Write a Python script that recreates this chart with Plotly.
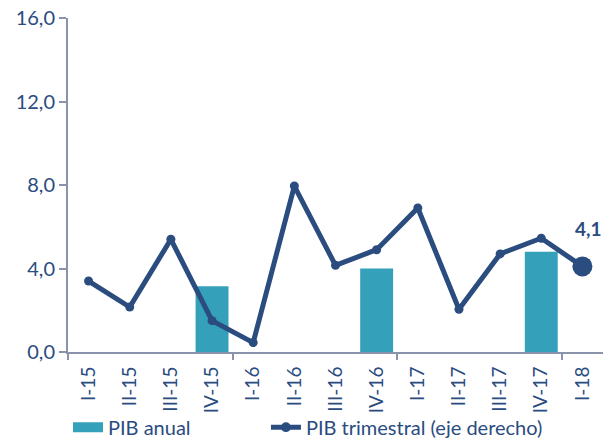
import plotly.graph_objects as go

categories = ["I-15", "II-15", "III-15", "IV-15", "I-16", "II-16", "III-16",
              "IV-16", "I-17", "II-17", "III-17", "IV-17", "I-18"]
pib_anual = [None, None, None, 3.15, None, None, None, 4.0, None, None, None, 4.8, None]
pib_trimestral = [3.4, 2.15, 5.4, 1.5, 0.45, 7.95, 4.15, 4.9, 6.9, 2.05, 4.7, 5.45, 4.1]
boundary_ticks = [-0.5, 3.5, 7.5, 11.5]

navy = "#2a4c7f"
teal = "#35a0b9"
axis_col = "#8a93ab"
font_family = "Lato, 'Open Sans', sans-serif"

fig = go.Figure()
fig.add_trace(go.Bar(x=categories, y=pib_anual, name="PIB anual", showlegend=False,
                     marker=dict(color=teal, line=dict(width=0)), width=0.8))
# legend stand-in for the bar series (wide swatch)
fig.add_trace(go.Scatter(x=[None], y=[None], mode="lines", name="PIB anual",
                         line=dict(color=teal, width=16), legend="legend"))
sizes = [9] * (len(categories) - 1) + [20]
fig.add_trace(go.Scatter(x=categories, y=pib_trimestral, mode="lines+markers",
                         name="PIB trimestral (eje derecho)", legend="legend2",
                         line=dict(color=navy, width=5),
                         marker=dict(color=navy, size=sizes, opacity=1,
                                     line=dict(width=0))))
# invisible trace for the boundary-tick axis
fig.add_trace(go.Scatter(x=boundary_ticks, y=[None] * len(boundary_ticks), xaxis="x2",
                         showlegend=False, hoverinfo="skip"))

fig.add_annotation(x=categories[-1], y=pib_trimestral[-1],
                   text="<b>" + f"{pib_trimestral[-1]:.1f}".replace(".", ",") + "</b>",
                   showarrow=False, xshift=6, yshift=38,
                   font=dict(size=19, color=navy, family=font_family))

legend_common = dict(orientation="h", xanchor="left", y=-0.225, yanchor="middle",
                     font=dict(size=20, color=navy), bgcolor="rgba(0,0,0,0)")

fig.update_layout(
    width=603, height=441,
    margin=dict(l=68, r=0, t=18, b=89, autoexpand=False),
    paper_bgcolor="white", plot_bgcolor="white",
    separators=",.",
    font=dict(family=font_family, size=19, color=navy),
    showlegend=True,
    legend=dict(x=0.0, **legend_common),
    legend2=dict(x=0.37, **legend_common),
    xaxis=dict(type="category", range=[-0.5, 12.5], showline=True, linecolor=axis_col,
               linewidth=2, ticks="", tickangle=-90, showgrid=False, zeroline=False,
               automargin=False, ticklabelstandoff=5, tickfont=dict(size=19, color=navy)),
    xaxis2=dict(overlaying="x", anchor="y", range=[-0.5, 12.5], tickvals=boundary_ticks,
                ticks="outside", ticklen=7, tickwidth=2, tickcolor=axis_col,
                showticklabels=False, showline=False, showgrid=False, zeroline=False,
                automargin=False),
    yaxis=dict(range=[0, 16], tickvals=[0, 4, 8, 12, 16], tickformat=".1f",
               showline=True, linecolor=axis_col, linewidth=2, ticks="outside",
               ticklen=7, tickwidth=2, tickcolor=axis_col, showgrid=False,
               zeroline=False, automargin=False, tickfont=dict(size=20, color=navy)),
    bargap=0.2,
)

fig.write_html("out.html", config={"displayModeBar": False},
               post_script="document.body.style.margin='0';document.body.style.overflow='hidden';")
